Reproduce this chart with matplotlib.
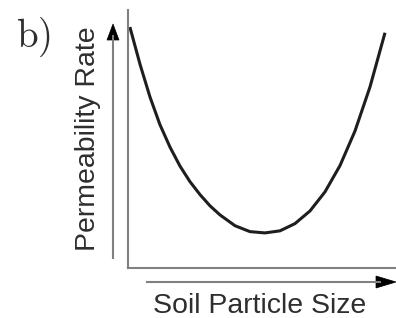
import matplotlib
matplotlib.use("Agg")
import matplotlib.pyplot as plt
from matplotlib.lines import Line2D
from matplotlib.patches import Polygon

# Curve readings (arbitrary units, x: particle size, y: permeability rate)
size = [0.07, 0.45, 0.82, 1.19, 1.57, 1.94, 2.31, 2.69, 3.06, 3.43, 3.99, 4.55, 5.11,
        5.67, 6.23, 6.79, 7.35, 7.91, 8.47, 9.03, 9.59]
rate = [9.34, 7.89, 6.63, 5.56, 4.68, 3.95, 3.35, 2.84, 2.41, 2.06, 1.64, 1.41, 1.36,
        1.44, 1.72, 2.21, 2.95, 3.97, 5.31, 7.02, 9.12]

xlabel = "Soil Particle Size"
ylabel = "Permeability Rate"
panel = "b)"

W, H = 396, 318
fig = plt.figure(figsize=(W / 100, H / 100), dpi=100)
ax = fig.add_axes([128 / W, 50 / H, 268 / W, 258 / H])
ax.set_xlim(0, 10)
ax.set_ylim(0, 10)
ax.plot(size, rate, color="#1e1e1e", lw=2.2, solid_capstyle="butt",
        solid_joinstyle="round", clip_on=False)
ax.set_xticks([])
ax.set_yticks([])
for s in ["top", "right"]:
    ax.spines[s].set_visible(False)
for s in ["left", "bottom"]:
    ax.spines[s].set_color("#808080")
    ax.spines[s].set_linewidth(1.5)

def px(x, y):
    return (x / W, 1 - y / H)

gray = "#808080"
# y arrow
fig.add_artist(Line2D([113 / W, 113 / W], [1 - 258 / H, 1 - 36 / H], color=gray, lw=1.5,
                      transform=fig.transFigure))
fig.add_artist(Polygon([px(113, 24), px(107, 40), px(119, 40)], closed=True,
                       facecolor="black", edgecolor="black", lw=0.5, transform=fig.transFigure))
# x arrow
fig.add_artist(Line2D([147 / W, 380 / W], [1 - 282 / H, 1 - 282 / H], color=gray, lw=1.5,
                      transform=fig.transFigure))
fig.add_artist(Polygon([px(396, 282), px(376, 276), px(376, 288)], closed=True,
                       facecolor="black", edgecolor="black", lw=0.5, transform=fig.transFigure))

fig.text(88 / W, 1 - 139 / H, ylabel, rotation=90, ha="center", va="center",
         fontsize=20.5, family="Liberation Sans", color="#2e2e2e")
fig.text(260 / W, 1 - 313 / H, xlabel, ha="center", va="baseline",
         fontsize=20.5, family="Liberation Sans", color="#2e2e2e")

plt.rcParams["mathtext.fontset"] = "cm"
fig.text(16 / W, 1 - 47 / H, r"$\mathrm{b)}$", ha="left", va="baseline",
         fontsize=28, color="#2e2e2e")

fig.savefig("out.png", dpi=100)
